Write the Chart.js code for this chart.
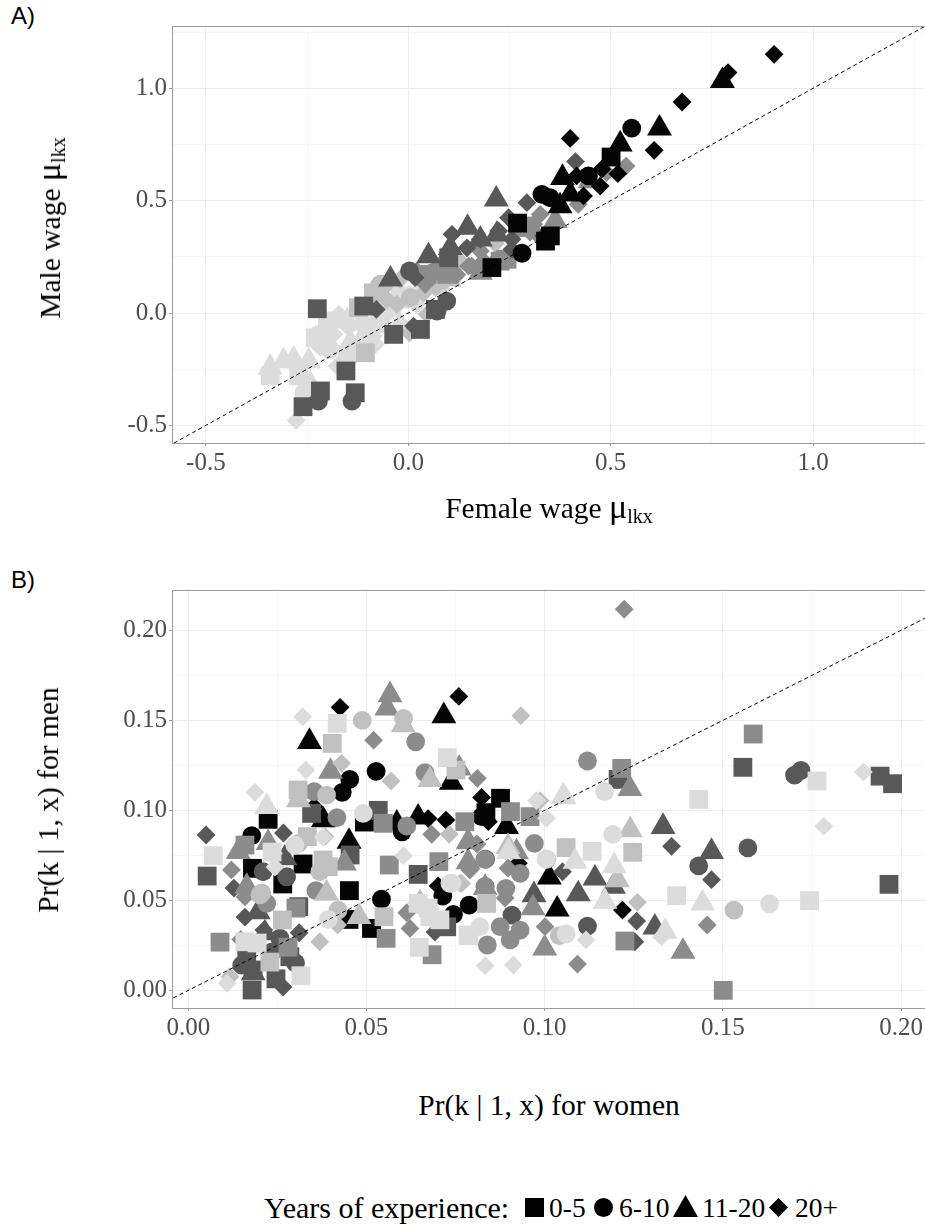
<!DOCTYPE html>
<html>
<head>
<meta charset="utf-8">
<title>Wages and sorting by experience</title>
<script src="https://cdn.jsdelivr.net/npm/chart.js@4"></script>
<style>
  html, body { margin: 0; padding: 0; background: #fff; }
  #page { position: relative; width: 925px; height: 1226px; overflow: hidden; font-family: "Liberation Serif", serif; color: #000; }
  canvas { position: absolute; left: 0; }
  .panel-tag { position: absolute; left: 11px; font: 24px "Liberation Sans", sans-serif; line-height: 28px; }
  .axis-title { position: absolute; font-size: 29.5px; line-height: 34px; white-space: nowrap; transform: translate(-50%, -50%); }
  .axis-title.vertical { transform: translate(-50%, -50%) rotate(-90deg); }
  .axis-title .mu { font-size: 34px; line-height: 0; }
  .axis-title sub { font-size: 20px; vertical-align: -5px; line-height: 0; }
  .legend-text { position: absolute; top: 1191px; font-size: 27.5px; line-height: 34px; white-space: nowrap; }
  .legend-mark { position: absolute; fill: #000; }
</style>
</head>
<body>
<div id="page">
  <div class="panel-tag" style="top:2px">A)</div>
  <div class="panel-tag" style="top:566px">B)</div>
  <canvas id="wageChart" width="925" height="490" style="top:0"></canvas>
  <canvas id="shareChart" width="925" height="480" style="top:560px"></canvas>
  <div class="axis-title vertical" style="left:50px;top:228px">Male wage <span class="mu">μ</span><sub>lkx</sub></div>
  <div class="axis-title" style="left:549px;top:508px">Female wage <span class="mu">μ</span><sub>lkx</sub></div>
  <div class="axis-title vertical" style="left:48px;top:800px">Pr(k | 1, x) for men</div>
  <div class="axis-title" style="left:549px;top:1105px">Pr(k | 1, x) for women</div>

  <div class="legend-text" style="left:264px;font-size:30px">Years of experience:</div>
  <svg class="legend-mark" style="left:525px;top:1198px" width="19" height="19"><rect width="19" height="19"/></svg>
  <div class="legend-text" style="left:549px">0-5</div>
  <svg class="legend-mark" style="left:594px;top:1198px" width="19" height="19"><circle cx="9.5" cy="9.5" r="9.5"/></svg>
  <div class="legend-text" style="left:619px">6-10</div>
  <svg class="legend-mark" style="left:673px;top:1195px" width="25" height="22"><polygon points="12.5,0 25,22 0,22"/></svg>
  <div class="legend-text" style="left:702px">11-20</div>
  <svg class="legend-mark" style="left:769px;top:1198px" width="19" height="19"><polygon points="9.5,0 19,9.5 9.5,19 0,9.5"/></svg>
  <div class="legend-text" style="left:795px">20+</div>
</div>

<script>
// Panel A: [female wage, male wage], one list per experience group and worker group
const aSquare0 = [[.501,.694],[.339,.32],[.351,.343],[.2066,.202],[.27,.4]];
const aCircle0 = [[.552,.823],[.445,.61],[.33,.528],[.35,.513],[.281,.266]];
const aTriangle0 = [[.776,1.033],[.6206,.822],[.5235,.751],[.381,.602],[.375,.476],[.4,.528]];
const aDiamond0 = [[.9037,1.151],[.79,1.07],[.6765,.939],[.6074,.724],[.4,.777],[.5177,.62],[.474,.565],[.478,.64],[.416,.61],[.433,.521]];

const aSquare1 = [[-.2247,.019],[-.154,-.258],[-.131,-.355],[-.217,-.347],[-.26,-.417],[-.036,-.095],[.03,-.073],[.067,.016],[-.11,.031],[.1,.246]];
const aCircle1 = [[-.139,-.392],[-.222,-.392],[.003,.187],[.095,.053],[.071,.009]];
const aTriangle1 = [[.2173,.506],[.1465,.38],[.05,.254],[.178,.328],[.219,.35],[.104,.29],[-.044,.15]];
const aDiamond1 = [[.413,.674],[.293,.491],[.248,.424],[.108,.35],[.145,.29],[.178,.328],[.256,.328],[.256,.283],[.223,.365],[.334,.343],[.017,.157],[-.079,.016],[.013,-.058]];

const aSquare2 = [[.282,.387],[.244,.239],[.227,.231],[.046,.172],[.095,.172],[.3,.38]];
const aCircle2 = [[.095,.231],[.06,.18]];
const aTriangle2 = [[.449,.587],[.363,.41],[.342,.343],[.178,.18]];
const aDiamond2 = [[.538,.654],[.42,.484],[.49,.625],[.326,.439],[.285,.387],[.268,.365],[.31,.395],[.318,.35],[.301,.36],[.178,.276],[.071,.202],[.021,.187],[.149,.209],[.186,.231],[.219,.239],[.042,.128],[.17,.194],[.157,.209],[.12,.17]];

const aSquare3 = [[-.086,.09],[-.106,-.177],[-.123,.024],[-.07,.1]];
const aCircle3 = [[.005,.068],[-.061,.128],[-.069,.128]];
const aTriangle3 = [[-.094,.039],[.1,.15]];
const aDiamond3 = [[.215,.309],[.128,.231],[.108,.202],[.12,.209],[.079,.157],[.091,.142],[.067,.113],[.112,.172],[.038,.09],[.005,.068],[-.028,.039],[-.02,.15],[.046,-.006],[-.053,.061],[.003,-.088]];

const aSquare4 = [[-.341,-.28],[-.271,-.28],[-.23,-.11],[-.151,-.184],[-.2,-.036],[-.02,.076]];
const aCircle4 = [[-.221,-.095],[-.258,-.355],[-.193,-.162],[-.11,-.05]];
const aTriangle4 = [[-.341,-.243],[-.308,-.214],[-.283,-.206],[-.246,-.214],[-.254,-.362],[-.242,-.318],[-.254,-.399],[-.172,-.036],[-.151,-.036],[-.193,-.147],[-.143,-.132],[-.11,-.102],[-.077,-.028],[-.044,.016],[.005,.053]];
const aDiamond4 = [[-.277,-.478],[-.176,-.236],[-.172,-.006],[-.147,-.065],[-.11,-.11],[-.081,-.139],[-.065,-.05],[-.044,.009],[-.02,.053],[.021,.09],[.042,.098],[.054,.142],[.021,.039],[.083,.105],[.095,.165],[-.053,.053],[-.061,-.021],[-.119,-.006],[-.168,-.013],[-.184,-.095],[-.217,-.154],[-.086,-.102],[-.02,-.043],[-.028,.031],[.005,.083],[.038,.098],[-.077,.053],[-.102,-.065]];

// Panel B: [share among women, share among men]
const bSquare0 = [[.0224,.095],[.018,.0678],[.0322,.0702],[.0265,.0591],[.0452,.0554],[.0494,.0935],[.0876,.1067],[.0835,.0987],[.0451,.0394],[.0514,.0344]];
const bCircle0 = [[.0178,.0859],[.0453,.1172],[.0432,.11],[.0527,.1217],[.06,.0881],[.0542,.0506],[.0714,.0524],[.0744,.0422],[.0788,.0474],[.0823,.0965]];
const bTriangle0 = [[.034,.1381],[.0717,.1524],[.0738,.1154],[.0451,.0826],[.0379,.0946],[.0585,.0928],[.0645,.0961],[.0893,.0909],[.1013,.0628],[.1035,.045]];
const bDiamond0 = [[.0426,.1572],[.0759,.1633],[.0353,.102],[.0673,.0954],[.0723,.0946],[.0823,.1072],[.0842,.0937],[.0926,.0706],[.0701,.058],[.1218,.0446]];

const bSquare1 = [[.0053,.0635],[.0164,.0168],[.0179,.0002],[.0246,.0064],[.0182,.0113],[.0533,.1],[.0645,.0644],[.0454,.0752],[.1556,.1239],[.1941,.119],[.1976,.1148],[.1966,.0589],[.1206,.1172],[.0346,.0983],[.031,.0465],[.0285,.0187],[.0725,.0353]];
const bCircle1 = [[.112,.0357],[.1432,.0691],[.157,.0791],[.1701,.1196],[.1719,.1222],[.021,.0659],[.0257,.029],[.0235,.0213],[.0301,.0152],[.015,.014],[.0276,.0631],[.0834,.0729],[.0908,.0418],[.0833,.0576]];
const bTriangle1 = [[.1332,.0909],[.1468,.077],[.1141,.0622],[.1094,.0535],[.1193,.0576],[.1309,.035],[.097,.053],[.0271,.0735],[.0196,.0435],[.0215,.0318],[.0182,.0096]];
const bDiamond1 = [[.005,.0863],[.0128,.0568],[.0267,.0874],[.0311,.032],[.0266,.0018],[.0159,.0407],[.0212,.0335],[.105,.0659],[.1356,.08],[.1468,.0615],[.1258,.0385],[.1253,.027],[.0692,.0324]];

const bSquare2 = [[.0089,.0268],[.0159,.0807],[.0302,.0457],[.028,.024],[.0564,.0696],[.0555,.0289],[.0684,.0198],[.0703,.0715],[.0776,.0937],[.0904,.0993],[.0959,.0965],[.0547,.0928],[.1585,.1424],[.1216,.1233],[.1225,.0274],[.1501,0]];
const bCircle2 = [[.0353,.1104],[.0417,.0959],[.0358,.0554],[.0638,.1381],[.0664,.1209],[.0613,.0913],[.0832,.0728],[.0832,.0576],[.0891,.0567],[.0971,.0817],[.0875,.0354],[.0931,.0335],[.0903,.028],[.0839,.0252],[.0931,.065],[.112,.1274],[.022,.0483]];
const bTriangle2 = [[.0566,.1641],[.0557,.1567],[.0399,.1215],[.076,.1233],[.014,.077],[.0438,.0706],[.0785,.0824],[.0785,.0713],[.0921,.0768],[.1,.0234],[.1239,.1119],[.1388,.0215],[.0833,.057],[.0164,.0576],[.0224,.0819],[.0967,.0457]];
const bDiamond2 = [[.1223,.2117],[.052,.139],[.0811,.1178],[.0121,.0669],[.0147,.0283],[.0159,.052],[.0622,.0344],[.0613,.0431],[.0683,.0867],[.1456,.0363],[.1092,.0146],[.1001,.0354],[.0897,.0679],[.0889,.0513],[.081,.0813],[.079,.0668]];

const bSquare3 = [[.0404,.1372],[.0308,.1113],[.0334,.0854],[.0393,.0687],[.0264,.0391],[.0549,.0409],[.0837,.0483],[.106,.0793],[.1247,.0767],[.0751,.1224],[.0378,.0724],[.0229,.0157]];
const bCircle3 = [[.0488,.15],[.0604,.1511],[.0369,.0659],[.0388,.1085],[.0201,.053],[.042,.0446],[.1006,.0728],[.1531,.0446],[.1041,.0304],[.0309,.0817],[.0206,.0541]];
const bTriangle3 = [[.0603,.1474],[.0309,.1057],[.0678,.1169],[.0388,.0539],[.0479,.0409],[.124,.0891],[.1204,.0613],[.0897,.0797],[.065,.0485]];
const bDiamond3 = [[.043,.1261],[.0569,.1163],[.0383,.0854],[.0732,.0867],[.0933,.1526],[.0117,.0076],[.0369,.027],[.0419,.0363],[.0767,.0594],[.126,.0489],[.0987,.1054],[.0762,.0596]];

const bSquare4 = [[.1133,.0772],[.1432,.1061],[.1764,.1163],[.137,.0526],[.1743,.0498],[.0418,.1483],[.0727,.1293],[.007,.0748],[.0316,.0081],[.0648,.0239],[.0786,.0304],[.0645,.0483],[.0678,.0409],[.0159,.027],[.0193,.0263],[.0235,.0768],[.0673,.0457],[.0706,.0392],[.0785,.0307]];
const bCircle4 = [[.1168,.1104],[.1191,.0867],[.1631,.0481],[.0491,.0983],[.0393,.0394],[.106,.0313],[.1004,.073],[.0734,.0594],[.0818,.0354],[.0659,.0465],[.0299,.0807],[.074,.0596]];
const bTriangle4 = [[.022,.102],[.1054,.1076],[.1085,.0715],[.1195,.0691],[.1169,.0493],[.1338,.0326],[.1443,.0483],[.1051,.1074],[.0898,.077]];
const bDiamond4 = [[.0321,.152],[.0187,.11],[.033,.1224],[.0604,.0748],[.1894,.1213],[.1783,.0911],[.1116,.028],[.0109,.0039],[.0833,.0137],[.0912,.0141],[.1005,.0956],[.1328,.0298],[.0239,.0761],[.0977,.1054],[.0378,.0852],[.0243,.0685],[.0641,.0485]];

// axis ticks and the 45 degree line
const aMajorTicks = [-0.5, 0, 0.5, 1];
const aMinorTicks = [-0.25, 0.25, 0.75, 1.25];
const bXMajorTicks = [0, 0.05, 0.1, 0.15, 0.2];
const bXMinorTicks = [0.025, 0.075, 0.125, 0.175];
const bYMajorTicks = [0, 0.05, 0.1, 0.15, 0.2];
const bYMinorTicks = [0.025, 0.075, 0.125, 0.175];
const aDiagonal = [-0.7, 1.4];
const bDiagonal = [-0.02, 0.23];

// rows = grey shade, columns = experience group
const aGroups = [
    [aSquare0, aCircle0, aTriangle0, aDiamond0],
    [aSquare1, aCircle1, aTriangle1, aDiamond1],
    [aSquare2, aCircle2, aTriangle2, aDiamond2],
    [aSquare3, aCircle3, aTriangle3, aDiamond3],
    [aSquare4, aCircle4, aTriangle4, aDiamond4]
];
const bGroups = [
    [bSquare0, bCircle0, bTriangle0, bDiamond0],
    [bSquare1, bCircle1, bTriangle1, bDiamond1],
    [bSquare2, bCircle2, bTriangle2, bDiamond2],
    [bSquare3, bCircle3, bTriangle3, bDiamond3],
    [bSquare4, bCircle4, bTriangle4, bDiamond4]
];

const shades = ['#050505', '#585858', '#8c8c8c', '#c0c0c0', '#dcdcdc'];
const markers = [
    { pointStyle: 'rect', pointRadius: 13.3 },
    { pointStyle: 'circle', pointRadius: 9.4 },
    { pointStyle: 'triangle', pointRadius: 14.4 },
    { pointStyle: 'rectRot', pointRadius: 9.4 }
];

const frameColor = '#9a9a9a';

const framePlugin = {
    id: 'frame',
    afterDatasetsDraw(chart) {
        const { left, top, width, height } = chart.chartArea;
        const ctx = chart.ctx;
        ctx.save();
        ctx.strokeStyle = frameColor;
        ctx.lineWidth = 1;
        ctx.strokeRect(left + 0.5, top + 0.5, width, height);
        ctx.restore();
    }
};

function markerDatasets(groups, shadeOrder) {
    const sets = [];
    shadeOrder.forEach(shade => {
        groups[shade].forEach((points, m) => {
            sets.push({
                data: points.map(p => ({ x: p[0], y: p[1] })),
                backgroundColor: shades[shade],
                borderWidth: 0,
                clip: false,
                order: 1,
                ...markers[m]
            });
        });
    });
    return sets;
}

function axisOptions(min, max, major, minor, digits) {
    return {
        type: 'linear',
        min: min,
        max: max,
        afterBuildTicks(scale) {
            const ticks = major.map(v => ({ value: v, major: true }))
                .concat(minor.map(v => ({ value: v, major: false })));
            scale.ticks = ticks.sort((a, b) => a.value - b.value);
        },
        border: { display: false },
        grid: {
            color: ctx => ctx.tick.major ? '#ececec' : '#f4f4f4',
            lineWidth: ctx => ctx.tick.major ? 1 : 0.7,
            tickColor: ctx => ctx.tick.major ? frameColor : 'rgba(0,0,0,0)',
            tickLength: 3,
            drawTicks: true
        },
        ticks: {
            autoSkip: false,
            maxRotation: 0,
            minRotation: 0,
            padding: 2,
            color: '#4d4d4d',
            font: { family: 'Liberation Serif', size: 25 },
            callback(value, index, ticks) {
                return ticks[index].major ? value.toFixed(digits) : '';
            }
        }
    };
}

function drawPanel(canvasId, groups, shadeOrder, diagonal, top, bottomSpace, xAxis, yAxis) {
    const ctx = document.getElementById(canvasId).getContext('2d');
    const datasets = markerDatasets(groups, shadeOrder);
    datasets.push({
        data: diagonal.map(v => ({ x: v, y: v })),
        showLine: true,
        pointRadius: 0,
        borderColor: '#000',
        borderWidth: 1,
        borderDash: [4, 3],
        order: 0
    });
    xAxis.afterFit = scale => { scale.height = bottomSpace; };
    yAxis.afterFit = scale => { scale.width = 172; };
    return new Chart(ctx, {
        type: 'scatter',
        data: { datasets: datasets },
        options: {
            responsive: false,
            animation: false,
            events: [],
            layout: { autoPadding: false, padding: { top: top, right: 0, left: 0, bottom: 0 } },
            plugins: { legend: { display: false }, tooltip: { enabled: false } },
            scales: { x: xAxis, y: yAxis }
        },
        plugins: [framePlugin]
    });
}

drawPanel('wageChart', aGroups, [0, 1, 2, 3, 4], aDiagonal, 26, 47,
    axisOptions(-0.5837, 1.2765, aMajorTicks, aMinorTicks, 1),
    axisOptions(-0.5785, 1.2772, aMajorTicks, aMinorTicks, 1));

drawPanel('shareChart', bGroups, [4, 3, 2, 1, 0], bDiagonal, 30, 32,
    axisOptions(-0.00457, 0.2067, bXMajorTicks, bXMinorTicks, 2),
    axisOptions(-0.0098, 0.2224, bYMajorTicks, bYMinorTicks, 2));
</script>
</body>
</html>
